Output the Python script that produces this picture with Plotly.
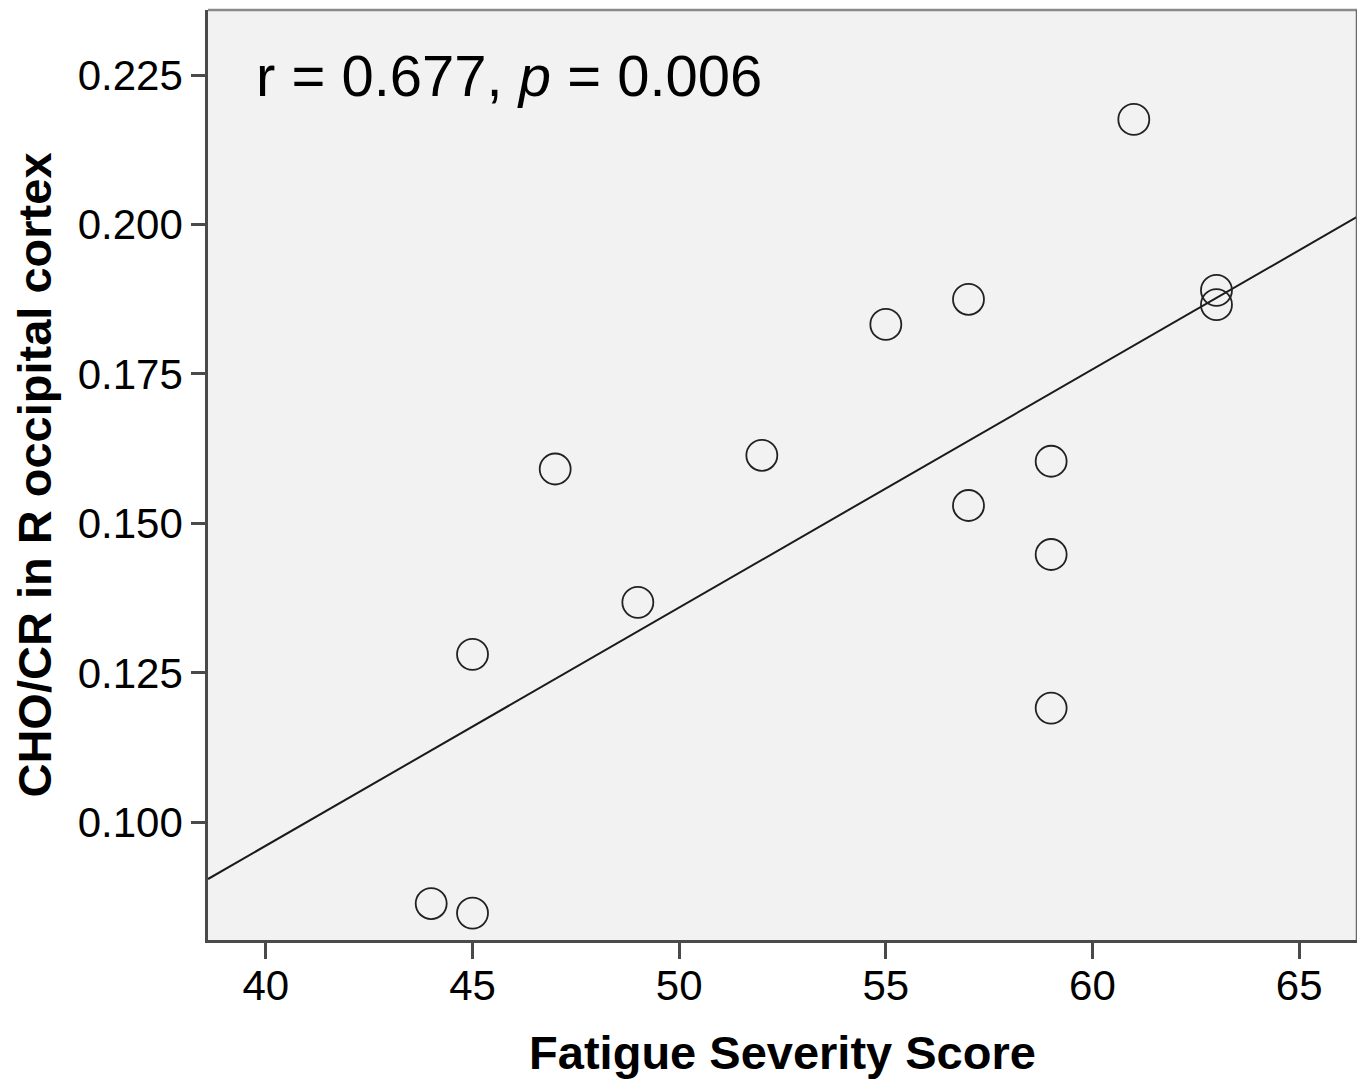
import numpy as np
import plotly.graph_objects as go

fatigue = [44, 45, 45, 47, 49, 52, 55, 57, 57, 59, 59, 59, 61, 63, 63]
cho_cr = [0.0864, 0.0848, 0.1281, 0.1591, 0.1368, 0.1614, 0.1833, 0.1875,
          0.1530, 0.1604, 0.1448, 0.1191, 0.2176, 0.1890, 0.1866]
x_ticks = [40, 45, 50, 55, 60, 65]
y_ticks = [0.100, 0.125, 0.150, 0.175, 0.200, 0.225]
y_tick_labels = ["0.100", "0.125", "0.150", "0.175", "0.200", "0.225"]
x_range = [38.6, 66.4]
y_range = [0.0803, 0.2359]
stat_text = "r = 0.677, <i>p</i> = 0.006"

slope, intercept = np.polyfit(fatigue, cho_cr, 1)
line_x = np.array(x_range)
line_y = slope * line_x + intercept

FONT = "Liberation Sans, Arial, sans-serif"

fig = go.Figure()
fig.add_trace(go.Scatter(
    x=line_x, y=line_y, mode="lines",
    line=dict(color="#1a1a1a", width=2), hoverinfo="skip", showlegend=False))
fig.add_trace(go.Scatter(
    x=fatigue, y=cho_cr, mode="markers",
    marker=dict(symbol="circle-open", size=31, color="#222222",
                line=dict(width=1.8, color="#222222")),
    showlegend=False))

fig.add_annotation(x=39.72, y=0.225, xref="x", yref="y", text=stat_text,
                   showarrow=False, xanchor="left", yanchor="middle",
                   font=dict(family=FONT, size=58, color="black"))

# top and right frame lines (lighter grey)
fig.add_shape(type="line", xref="paper", yref="paper", x0=0, x1=1, y0=1, y1=1,
              line=dict(color="#8a8a8a", width=2.5))
fig.add_shape(type="line", xref="paper", yref="paper", x0=1, x1=1, y0=0, y1=1,
              line=dict(color="#6a6a6a", width=2.5))

fig.update_layout(
    width=1351, height=1071,
    margin=dict(l=200, r=2, t=2, b=139),
    paper_bgcolor="white", plot_bgcolor="#f2f2f2",
    font=dict(family=FONT, color="black"),
    xaxis=dict(range=x_range, tickvals=x_ticks, showgrid=False, zeroline=False,
               showline=True, linecolor="#4a4a4a", linewidth=2.5,
               ticks="outside", ticklen=16, tickwidth=2.5, tickcolor="#4a4a4a",
               ticklabelstandoff=-9,
               tickfont=dict(size=42, family=FONT),
               title=dict(text="<b>Fatigue Severity Score</b>",
                          font=dict(size=47, family=FONT), standoff=28)),
    yaxis=dict(range=y_range, tickvals=y_ticks, ticktext=y_tick_labels,
               showgrid=False, zeroline=False,
               showline=True, linecolor="#4a4a4a", linewidth=2.5,
               ticks="outside", ticklen=14, tickwidth=2.5, tickcolor="#4a4a4a",
               tickfont=dict(size=42, family=FONT),
               title=dict(text="<b>CHO/CR in R occipital cortex</b>",
                          font=dict(size=47, family=FONT), standoff=18)),
)

fig.write_html("out.html")
